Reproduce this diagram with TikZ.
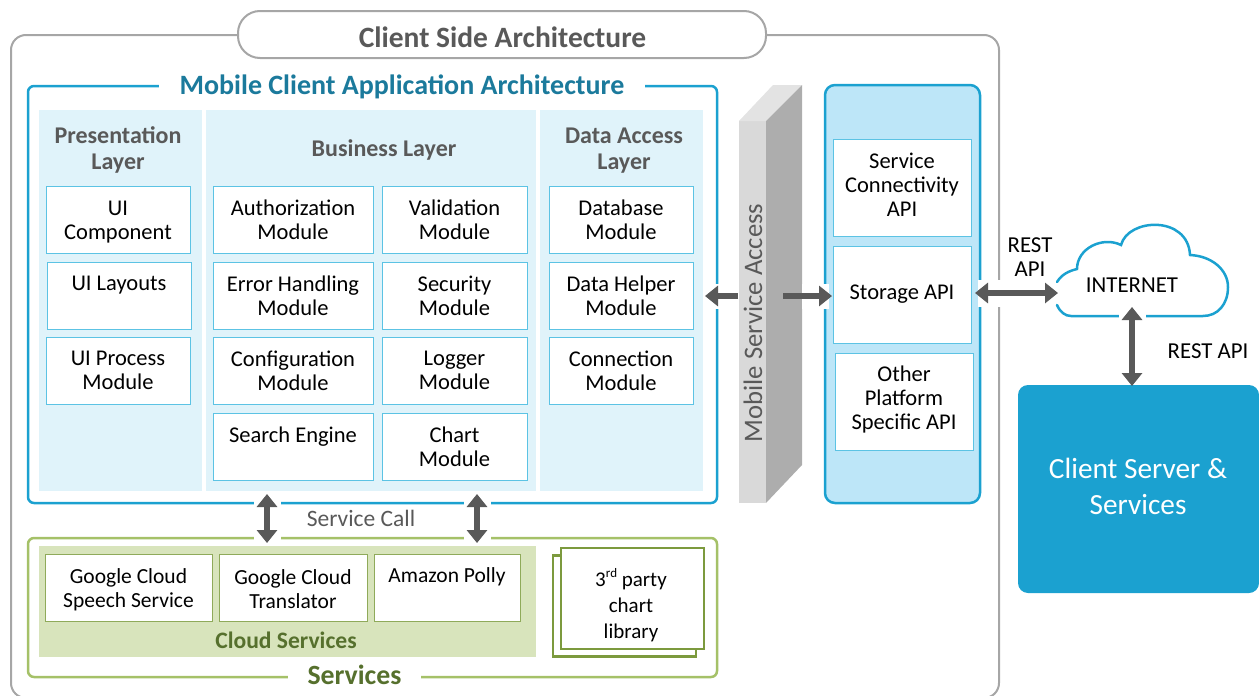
\documentclass[tikz,border=0pt]{standalone}
\usepackage{fontspec}
\setmainfont{Carlito}
\usetikzlibrary{arrows.meta}
\definecolor{framegray}{HTML}{A6A6A6}
\definecolor{textgray}{HTML}{595959}
\definecolor{frameblue}{HTML}{1BA1D0}
\definecolor{titleblue}{HTML}{1B7A9C}
\definecolor{layerblue}{HTML}{E0F3FA}
\definecolor{panelblue}{HTML}{BDE6F8}
\definecolor{boxblue}{HTML}{5CC3E4}
\definecolor{framegreen}{HTML}{A5C168}
\definecolor{panelgreen}{HTML}{D8E4BC}
\definecolor{boxgreen}{HTML}{8FAA5A}
\definecolor{stackgreen}{HTML}{7C9A3E}
\definecolor{titlegreen}{HTML}{56702D}
\newcommand{\dropline}{~\\[-5pt]}
\tikzset{
  module/.style={shape=rectangle, draw=boxblue, fill=white, line width=1pt, align=center, inner sep=0pt,
    minimum height=67pt, font=\fontsize{22.5}{24}\selectfont},
  apibox/.style={module, minimum width=138pt, minimum height=97pt},
  cloudbox/.style={module, draw=boxgreen, font=\fontsize{21.5}{24}\selectfont},
  stackbox/.style={shape=rectangle, draw=stackgreen, fill=white, line width=2.5pt, inner sep=0pt, minimum width=143pt, minimum height=101pt},
  layer/.style={shape=rectangle, fill=layerblue, inner sep=0pt, minimum height=381pt},
  layertitle/.style={align=center, text=textgray, font=\fontsize{24}{26}\selectfont\bfseries},
  plain/.style={align=center, inner sep=0pt, font=\fontsize{22.8}{24}\selectfont},
  link/.style={line width=6.5pt, draw=textgray, {Triangle[width=20pt,length=13pt]}-{Triangle[width=20pt,length=13pt]},
    preaction={draw=white, line width=27pt, -, shorten <=3pt, shorten >=3pt}},
  onelink/.style={line width=6.5pt, draw=textgray, -{Triangle[width=20pt,length=13pt]},
    preaction={draw=white, line width=25pt, -, shorten <=19pt, shorten >=3pt}}
}
\begin{document}
\begin{tikzpicture}[x=1pt, y=-1pt]
\useasboundingbox (0,0) rectangle (1259,696);
% outer frame
\draw[framegray, line width=2pt, rounded corners=15pt] (11,35) rectangle (999,698);
\node[shape=rectangle, rounded corners=22pt, draw=framegray, fill=white, line width=2pt, minimum width=528pt, minimum height=47pt] (clientside) at (502,34.5) {};
\node[text=textgray, inner sep=0pt, font=\fontsize{29.5}{32}\selectfont\bfseries] (clientsidetext) at (502.5,37) {Client Side Architecture};
% mobile client
\draw[frameblue, line width=2.5pt, rounded corners=6pt] (28,86) rectangle (717,503);
\node[fill=white, inner sep=0pt, minimum width=486pt, minimum height=24pt, text=titleblue, font=\fontsize{28}{30}\selectfont\bfseries] (mobile) at (402,87) {Mobile Client Application Architecture};
\node[layer, minimum width=163pt] (presentation) at (120.5,300.5) {};
\node[layer, minimum width=330pt] (business) at (371,300.5) {};
\node[layer, minimum width=163pt] (dataaccess) at (621.5,300.5) {};
\node[layertitle] (presentationtitle) at (118,150) {Presentation\\Layer};
\node[layertitle] (businesstitle) at (384,150) {Business Layer};
\node[layertitle] (dataaccesstitle) at (624,151) {Data Access\\Layer};
\node[module, minimum width=144pt] (uicomp) at (118,219.5) {\dropline UI\\Component};
\node[module, minimum width=144pt] (uilayout) at (119,295.5) {UI Layouts\\~};
\node[module, minimum width=144pt] (uiprocess) at (118,370.5) {UI Process\\Module};
\node[module, minimum width=160pt] (auth) at (293,219.5) {Authorization\\Module};
\node[module, minimum width=145pt] (valid) at (454.5,219.5) {Validation\\Module};
\node[module, minimum width=160pt] (error) at (293,295.5) {Error Handling\\Module};
\node[module, minimum width=145pt] (security) at (454.5,295.5) {Security\\Module};
\node[module, minimum width=160pt] (config) at (293,370.5) {Configuration\\Module};
\node[module, minimum width=145pt] (logger) at (454.5,370.5) {Logger\\Module};
\node[module, minimum width=160pt] (search) at (293,446.5) {Search Engine\\~};
\node[module, minimum width=145pt] (chart) at (454.5,446.5) {Chart\\Module};
\node[module, minimum width=144pt] (database) at (621,219.5) {Database\\Module};
\node[module, minimum width=144pt] (datahelper) at (621,295.5) {Data Helper\\Module};
\node[module, minimum width=144pt] (connection) at (621,370.5) {Connection\\Module};
% service access block
\fill[black!15] (739,121) -- (766,121) -- (766,503) -- (739,503) -- cycle;
\fill[black!11] (739,121) -- (773,85) -- (802,85) -- (766,121) -- cycle;
\fill[black!32] (766,121) -- (802,85) -- (802,465) -- (766,503) -- cycle;
\node[rotate=90, text=textgray, inner sep=0pt, font=\fontsize{26.7}{30}\selectfont] (access) at (753,323) {Mobile Service Access};
\coordinate (accessleft) at (738,296);
\coordinate (accessright) at (783,296);
% api panel
\draw[frameblue, fill=panelblue, line width=2.5pt, rounded corners=10pt] (825,85) rectangle (980,503);
\node[apibox] (connectivity) at (902,187.5) {Service\\Connectivity\\API\\[-18pt]~};
\node[apibox] (storage) at (902,294.5) {Storage API};
\node[apibox] (otherapi) at (904,401.5) {Other\\Platform\\Specific API\\[-17pt]~};
% internet
\draw[frameblue, line width=2.5pt, line cap=round] (1057,282) .. controls (1062,274) and (1069,271) .. (1077,269)
  .. controls (1077,248) and (1103,236) .. (1121,245)
  .. controls (1128,218) and (1188,215) .. (1190,255)
  .. controls (1212,256) and (1228,270) .. (1228,287)
  .. controls (1228,304) and (1218,316) .. (1203,316) -- (1147,316) -- (1071,316)
  .. controls (1065,316) and (1060,312) .. (1057,305);
\node[plain] (internet) at (1132,285) {INTERNET};
\node[shape=rectangle, rounded corners=10pt, fill=frameblue, minimum width=241pt, minimum height=208pt] (server) at (1138.5,489) {};
\node[align=center, text=white, inner sep=0pt, font=\fontsize{29.3}{36}\selectfont] (servertext) at (1138,486) {Client Server \&\\Services};
% services
\draw[framegreen, line width=2.5pt, rounded corners=6pt] (28,538) rectangle (717,677);
\node[fill=white, inner sep=0pt, minimum width=133pt, minimum height=20pt, text=titlegreen, font=\fontsize{27.8}{30}\selectfont\bfseries] (services) at (354.5,675) {Services};
\node[shape=rectangle, fill=panelgreen, inner sep=0pt, minimum width=497pt, minimum height=111pt] (cloudpanel) at (287.5,601.5) {};
\node[cloudbox, minimum width=167pt] (speech) at (128.5,587.5) {\dropline Google Cloud\\Speech Service};
\node[cloudbox, minimum width=148pt] (translator) at (293,587.5) {\dropline Google Cloud\\Translator};
\node[cloudbox, minimum width=146pt] (polly) at (447,587.5) {Amazon Polly\\~};
\node[text=titlegreen, inner sep=0pt, font=\fontsize{23.6}{26}\selectfont\bfseries] (cloudtitle) at (286,640) {Cloud Services};
\node[stackbox] (stackback) at (624.5,606) {};
\node[stackbox] (stackfront) at (632.5,598.5) {};
\node[align=center, inner sep=0pt, font=\fontsize{21}{26}\selectfont] (stacktext) at (631,605) {3\raisebox{9pt}{\fontsize{13}{13}\selectfont rd}~party\\chart\\library};
% links
\node[plain, text=textgray, font=\fontsize{23.5}{24}\selectfont] (servicecall) at (361,518) {Service Call};
\node[plain] (restone) at (1030,257) {REST\\API};
\node[plain] (resttwo) at (1208,351) {REST API};
\coordinate (calla) at (267,494);
\coordinate (callb) at (267,543);
\coordinate (callc) at (477,494);
\coordinate (calld) at (477,543);
\coordinate (storageright) at (975,293);
\coordinate (cloudleft) at (1058,293);
\coordinate (cloudbottom) at (1132,307);
\coordinate (servertop) at (1132,386);
\draw[link] (calla) -- (callb);
\draw[link] (callc) -- (calld);
\draw[link] (storageright) -- (cloudleft);
\draw[link] (cloudbottom) -- (servertop);
\draw[onelink] (accessleft) -- (705,296);
\draw[onelink] (accessright) -- (832,296);
\end{tikzpicture}
\end{document}
